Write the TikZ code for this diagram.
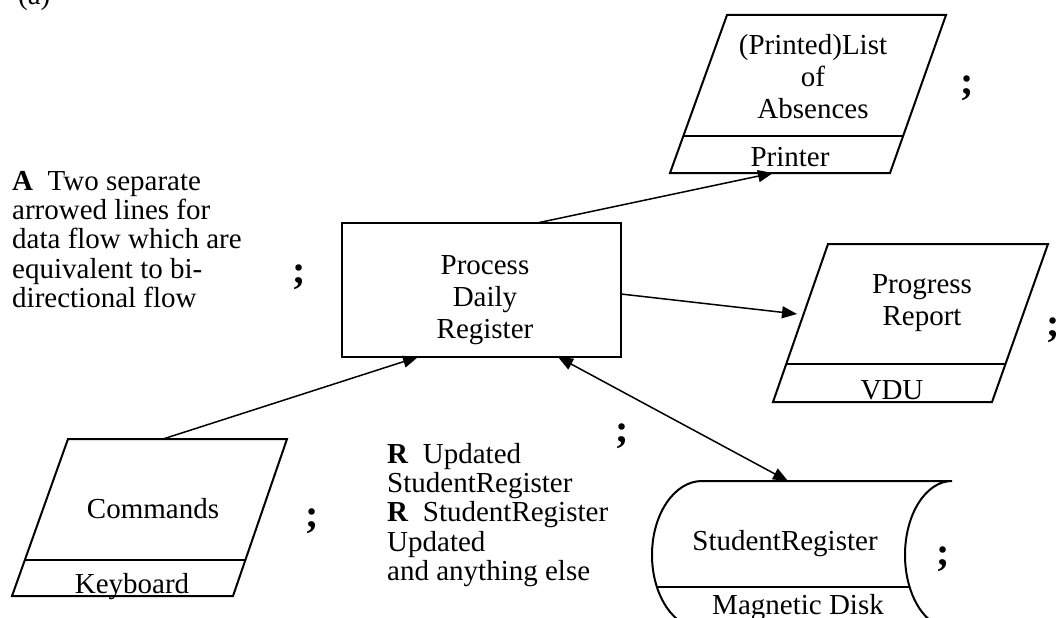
\documentclass[tikz,border=0pt]{standalone}
\usepackage{fontspec}
\setmainfont{Liberation Serif}
\usetikzlibrary{arrows.meta}
\begin{document}
\begin{tikzpicture}[x=1pt,y=-1pt,
  shapeline/.style={line width=2pt, line join=miter},
  boxline/.style={line width=2.6pt},
  divline/.style={line width=1.8pt},
  flow/.style={line width=1.5pt, -{Triangle[length=15pt,width=12pt]}},
  biflow/.style={line width=1.5pt, {Triangle[length=15pt,width=12pt]}-{Triangle[length=15pt,width=12pt]}},
  txt/.style={font=\fontsize{29}{32}\selectfont, inner sep=0pt, align=center, anchor=north},
  ftxt/.style={font=\fontsize{29}{29.3}\selectfont, inner sep=0pt, align=left, anchor=north west},
  lbl/.style={font=\fontsize{29}{32}\selectfont, inner sep=0pt, anchor=base},
  tick/.style={font=\fontsize{40}{40}\selectfont\bfseries, inner sep=0pt}
]
\useasboundingbox (0,0) rectangle (1057,618);
\clip (0,0) rectangle (1057,618);

% label (a)
\node[lbl, anchor=base west] (lab) at (18,5) {(a)};

% Process box
\node[boxline, draw, minimum width=279pt, minimum height=134pt, inner sep=0pt] (proc) at (481.5,290) {};
\node[txt] (proctxt) at (485,255) {Process\\Daily\\Register};

% Printed list (output document)
\draw[shapeline] (727,15) -- (946,15) -- (890,173) -- (670,173) -- cycle;
\draw[divline] (683,136) -- (903,136);
\node[txt] (listtxt) at (813,34) {(Printed)List\\of\\Absences};
\node[lbl] (printer) at (790,166) {Printer};

% Progress report
\draw[shapeline] (828,244) -- (1048,244) -- (992,402) -- (773,402) -- cycle;
\draw[divline] (786,364) -- (1005,364);
\node[txt] (progtxt) at (922,274) {Progress\\Report};
\node[lbl] (vdu) at (892,399) {VDU};

% Commands
\draw[shapeline] (68,439) -- (287,439) -- (233,596) -- (12,596) -- cycle;
\draw[divline] (25,560) -- (246,560);
\node[lbl] (cmdtxt) at (153,518) {Commands};
\node[lbl] (keyb) at (132,593) {Keyboard};

% Student register (magnetic disk)
\draw[shapeline] (702,481) -- (952,481)
  .. controls (926,481) and (905,514.1) .. (905,555)
  .. controls (905,595.9) and (926,629) .. (952,629)
  -- (702,629)
  .. controls (674.4,629) and (652,595.9) .. (652,555)
  .. controls (652,514.1) and (674.4,481) .. (702,481) -- cycle;
\draw[divline] (657,587) -- (910,587);
\node[lbl] (regtxt) at (785,550) {StudentRegister};
\node[lbl] (disk) at (798,614) {Magnetic Disk};

% connector end points
\coordinate (cmdtop) at (163,439);
\coordinate (procbl) at (418,357);
\coordinate (proctop) at (537,223);
\coordinate (listbot) at (773,173);
\coordinate (procright) at (621,294);
\coordinate (progleft) at (797,314);
\coordinate (procbr) at (558,357);
\coordinate (disktop) at (788,481);

\draw[flow] (cmdtop) -- (procbl);
\draw[flow] (proctop) -- (listbot);
\draw[flow] (procright) -- (progleft);
\draw[biflow] (procbr) -- (disktop);

% notes
\node[ftxt] (noteA) at (12,171) {\textbf{A} \ Two separate\\arrowed lines for\\data flow which are\\equivalent to bi-\\directional flow};
\node[ftxt] (noteR) at (387,443) {\textbf{R} \ Updated\\StudentRegister\\\textbf{R} \ StudentRegister\\Updated\\and anything else};

% ticks
\node[tick] (t1) at (299,277) {;};
\node[tick] (t2) at (967,88) {;};
\node[tick] (t3) at (312,521) {;};
\node[tick] (t4) at (622,436) {;};
\node[tick] (t5) at (943,559) {;};
\node[tick] (t6) at (1053,330) {;};
\end{tikzpicture}
\end{document}
